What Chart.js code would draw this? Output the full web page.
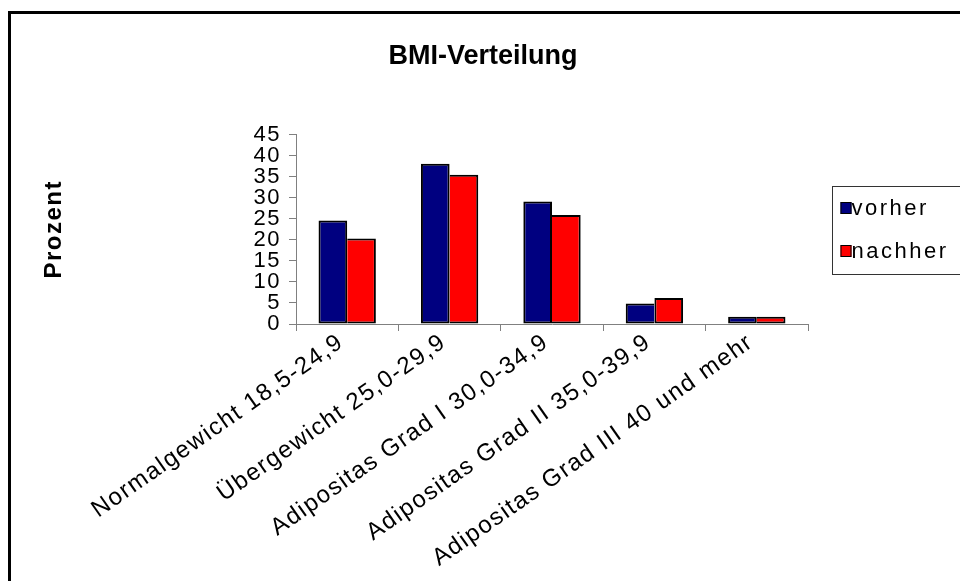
<!DOCTYPE html>
<html lang="de">
<head>
<meta charset="utf-8">
<title>BMI-Verteilung</title>
<script src="https://cdn.jsdelivr.net/npm/chart.js@4/dist/chart.umd.min.js"></script>
<style>
  html, body { margin: 0; padding: 0; background: #fff; }
  canvas { display: block; }
</style>
</head>
<body>
<canvas id="bmi" width="960" height="581"></canvas>
<script>
// BMI classes shown on the category axis
const categories = [
  'Normalgewicht 18,5-24,9',
  'Übergewicht 25,0-29,9',
  'Adipositas Grad I 30,0-34,9',
  'Adipositas Grad II 35,0-39,9',
  'Adipositas Grad III 40 und mehr'
];
// Share of participants per class, in percent
const vorher = [24.6, 38.1, 29.1, 4.9, 1.7];
const nachher = [20.3, 35.5, 25.9, 6.2, 1.7];
const seriesNames = ['vorher', 'nachher'];
const seriesColors = ['#000080', '#FF0000'];
// Value axis ticks
const yTicks = [0, 5, 10, 15, 20, 25, 30, 35, 40, 45];

const FONT = '"Liberation Sans", Arial, Helvetica, sans-serif';
const SPACING = '1.5px';
const LEGEND_SPACING = '2.5px';
const AXIS_GRAY = '#808080';

// Adjacent bars share one divider line: the lower bar of a pair drops its inner edge.
function borderFor(ds) {
  return (ctx) => {
    const i = ctx.dataIndex;
    const a = vorher[i], b = nachher[i];
    const w = { top: 2, bottom: 2, left: 2, right: 2 };
    if (ds === 0 && b > a) w.right = 0;
    if (ds === 1 && b <= a) w.left = 0;
    return w;
  };
}

const decor = {
  id: 'decor',
  beforeUpdate(chart) {
    chart.ctx.letterSpacing = SPACING;
  },
  afterLayout(chart) {
    // centre the heading over the whole sheet rather than the plot column,
    // and draw it without the extra tracking used for the axis text
    const t = chart.titleBlock;
    if (t) {
      t.left = 6;
      t.right = chart.width;
      if (!t.__plain) {
        const draw = t.draw.bind(t);
        t.draw = function (area) {
          const c = chart.ctx;
          const prev = c.letterSpacing;
          c.letterSpacing = '0px';
          draw(area);
          c.letterSpacing = prev;
        };
        t.__plain = true;
      }
    }
  },
  beforeDraw(chart) {
    const ctx = chart.ctx;
    ctx.letterSpacing = SPACING;
    ctx.save();
    ctx.fillStyle = '#fff';
    ctx.fillRect(0, 0, chart.width, chart.height);
    // sheet frame, runs off the right and bottom edges
    ctx.strokeStyle = '#000';
    ctx.lineWidth = 3;
    ctx.strokeRect(9.5, 12.5, chart.width + 20, chart.height + 20);
    ctx.restore();
  },
  afterDraw(chart) {
    const ctx = chart.ctx;
    const area = chart.chartArea;
    const boxLeft = Math.round(area.right) + 24.5;
    const boxTop = Math.round((area.top + area.bottom) / 2) - 42.5;
    ctx.save();
    ctx.letterSpacing = LEGEND_SPACING;
    ctx.strokeStyle = '#333';
    ctx.lineWidth = 1;
    ctx.strokeRect(boxLeft, boxTop, chart.width, 88);
    ctx.font = '22px ' + FONT;
    ctx.textBaseline = 'alphabetic';
    ctx.textAlign = 'left';
    chart.data.datasets.forEach((ds, i) => {
      const base = boxTop + 27.5 + i * 43;
      const sx = boxLeft + 8;
      ctx.fillStyle = ds.backgroundColor;
      ctx.fillRect(sx, base - 12, 11, 12);
      ctx.strokeStyle = '#000';
      ctx.lineWidth = 1;
      ctx.strokeRect(sx + 0.5, base - 11.5, 10, 11);
      ctx.fillStyle = '#000';
      ctx.fillText(ds.label, sx + 11, base + 1);
    });
    ctx.restore();
  }
};

new Chart(document.getElementById('bmi'), {
  type: 'bar',
  data: {
    labels: categories,
    datasets: [
      {
        label: seriesNames[0],
        data: vorher,
        backgroundColor: seriesColors[0],
        borderColor: '#000',
        borderWidth: borderFor(0),
        borderSkipped: false,
        categoryPercentage: 0.56,
        barPercentage: 1.0
      },
      {
        label: seriesNames[1],
        data: nachher,
        backgroundColor: seriesColors[1],
        borderColor: '#000',
        borderWidth: borderFor(1),
        borderSkipped: false,
        categoryPercentage: 0.56,
        barPercentage: 1.0
      }
    ]
  },
  options: {
    responsive: false,
    animation: false,
    layout: { padding: { top: 12, left: 12, right: 152, bottom: 0 } },
    plugins: {
      legend: { display: false },
      tooltip: { enabled: false },
      title: {
        display: true,
        text: 'BMI-Verteilung',
        color: '#000',
        font: { family: FONT, size: 27, weight: 'bold', lineHeight: 1.2 },
        padding: { top: 28.8, bottom: 61.5 }
      }
    },
    scales: {
      x: {
        grid: {
          display: true,
          offset: true,
          drawOnChartArea: false,
          drawTicks: true,
          tickLength: 7,
          color: AXIS_GRAY
        },
        border: { display: true, color: AXIS_GRAY, width: 1 },
        ticks: {
          color: '#000',
          font: { family: FONT, size: 24 },
          minRotation: 35,
          maxRotation: 35,
          autoSkip: false,
          labelOffset: -6,
          padding: -3
        },
        afterFit(scale) { scale.height = 257; }
      },
      y: {
        min: yTicks[0],
        max: yTicks[yTicks.length - 1],
        grid: {
          display: true,
          drawOnChartArea: false,
          drawTicks: true,
          tickLength: 7,
          color: AXIS_GRAY
        },
        border: { display: true, color: AXIS_GRAY, width: 1 },
        ticks: {
          stepSize: yTicks[1] - yTicks[0],
          autoSkip: false,
          color: '#000',
          font: { family: FONT, size: 22, lineHeight: 1 },
          padding: 8
        },
        title: {
          display: true,
          text: 'Prozent',
          color: '#000',
          font: { family: FONT, size: 24, weight: 'bold', lineHeight: 1.2 },
          padding: { top: 27.6, bottom: 0 }
        },
        afterFit(scale) { scale.width = 284; }
      }
    }
  },
  plugins: [decor]
});
</script>
</body>
</html>
